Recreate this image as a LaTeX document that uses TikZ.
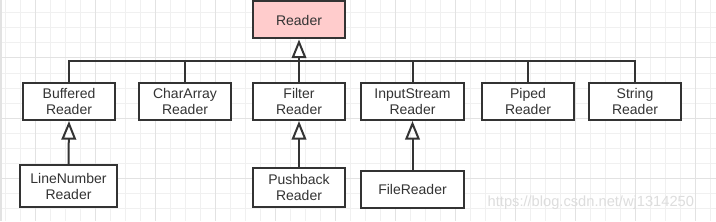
\documentclass[tikz,border=0pt]{standalone}
\usepackage{fontspec}
\setmainfont{Liberation Sans}
\usepackage{tikz}
\usetikzlibrary{arrows.meta}
\definecolor{Ink}{HTML}{333333}
\definecolor{Blush}{HTML}{FFCCCC}
\definecolor{GridMinor}{HTML}{F0F0F0}
\definecolor{GridMajor}{HTML}{E2E2E2}
\definecolor{Mark}{HTML}{DDDDDD}

\begin{document}
\begin{tikzpicture}[x=0.75pt,y=-0.75pt,
    cls/.style={draw=Ink,line width=1.5pt,fill=white,text=Ink,align=center,
      minimum width=69pt,minimum height=27.75pt,inner sep=0pt,
      font=\fontsize{10.5}{12}\selectfont},
    link/.style={Ink,line width=1.5pt},
    inherit/.style={link,-{Triangle[open,length=14pt 0,width=11pt 0]}}]
        \useasboundingbox (0,0) rectangle (716,221);
        \fill[white] (0,0) rectangle (716,221);
        % background grid
        \foreach \x in {5,20,...,710}
          \draw[GridMinor,line width=0.75pt] (\x,0) -- (\x,221);
        \foreach \y in {13,28,...,208}
          \draw[GridMinor,line width=0.75pt] (0,\y) -- (716,\y);
        \foreach \x in {35,95,...,695}
          \draw[GridMajor,line width=0.75pt] (\x,0) -- (\x,221);
        \foreach \y in {58,118,178}
          \draw[GridMajor,line width=0.75pt] (0,\y) -- (716,\y);
        \draw[GridMajor,line width=1.5pt] (1,0) -- (1,221);
        % classes
        \node[cls,fill=Blush] (Reader) at (299,20) {Reader};
        \node[cls] (Buffered) at (69,101.5) {Buffered\\Reader};
        \node[cls] (CharArray) at (185,101.5) {CharArray\\Reader};
        \node[cls] (Filter) at (299,101.5) {Filter\\Reader};
        \node[cls,minimum width=77.25pt] (InputStream) at (412.5,101.5) {InputStream\\Reader};
        \node[cls] (Piped) at (528,101.5) {Piped\\Reader};
        \node[cls] (String) at (635,101.5) {String\\Reader};
        \node[cls,minimum width=72.75pt,minimum height=31.5pt] (LineNumber) at (68.5,186) {LineNumber\\Reader};
        \node[cls,minimum height=29.25pt] (Pushback) at (299,187.5) {Pushback\\Reader};
        \node[cls,minimum width=77.25pt] (FileReader) at (412.5,189) {FileReader};
        \coordinate (bus) at (299,61);
        % inheritance
        \draw[link] (Buffered.north) |- (String.north |- bus) -- (String.north);
        \foreach \n in {CharArray,InputStream,Piped}
          \draw[link] (\n.north) -- (\n.north |- bus);
        \draw[inherit] (Filter.north) -- (Reader.south);
        \draw[inherit] (LineNumber.north) -- (Buffered.south);
        \draw[inherit] (Pushback.north) -- (Filter.south);
        \draw[inherit] (FileReader.north) -- (InputStream.south);
        \node[text=Mark,font=\fontsize{11}{12}\selectfont,anchor=west] (mark) at (483,203) {https://blog.csdn.net/wj1314250};
      \end{tikzpicture}
\end{document}
